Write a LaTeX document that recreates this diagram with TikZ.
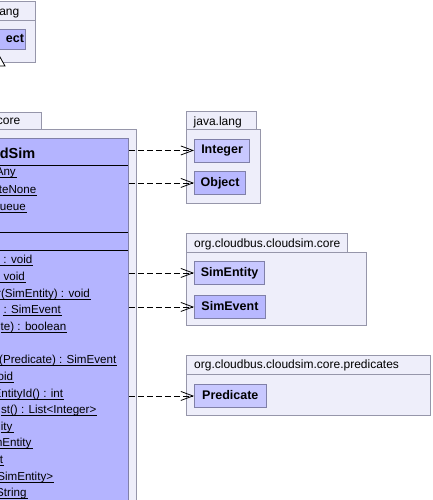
\documentclass[tikz,border=0pt]{standalone}
\usepackage{fontspec}
\setmainfont{Liberation Sans}
\usetikzlibrary{arrows.meta}
\definecolor{pkgfill}{RGB}{238,238,250}
\definecolor{pkgdraw}{RGB}{150,150,170}
\definecolor{clsfill}{RGB}{180,180,255}
\definecolor{nodefilla}{RGB}{200,200,255}
\definecolor{nodefillb}{RGB}{184,184,255}
\definecolor{nodedraw}{RGB}{128,128,168}
\newcommand\memtext[5]{%
  \node[mem] (#1) at (#2,#3) {#4#5};
  \draw[uline] ([yshift=-1.9pt]#1.base west) -- ([yshift=-1.9pt,xshift=0.8pt]#1.base east);}
\begin{document}
\begin{tikzpicture}[x=1pt,y=-1pt,
  pkg/.style={draw=pkgdraw, fill=pkgfill, line width=0.9pt},
  cnode/.style={draw=nodedraw, fill=nodefilla, line width=0.9pt,
    font=\fontsize{12.5}{14}\selectfont\bfseries, minimum height=23pt,
    text height=9pt, text depth=2.5pt, inner sep=0pt, anchor=north west},
  tabtext/.style={font=\fontsize{12}{14}\selectfont, inner sep=0pt, anchor=base west},
  mem/.style={font=\fontsize{11.6}{14}\selectfont, inner sep=0pt, anchor=base east},
  uline/.style={line width=0.8pt, draw=black},
  sep/.style={line width=0.9pt, draw=black},
  dep/.style={draw=black, dash pattern=on 6pt off 3pt, line width=0.8pt,
    -{Straight Barb[length=12pt,width=9pt,line width=0.8pt]}},
]
\useasboundingbox (0,0) rectangle (433,500);
\clip (0,0) rectangle (433,500);

% top-left package (java.lang, cut off)
\draw[pkg] (-20,1.7) rectangle (35,20);
\draw[pkg] (-20,20) rectangle (35,62);
\node[tabtext, anchor=base east] (tlname) at (19.5,15.5) {lang};
\node[cnode, fill=nodefillb, anchor=north east, minimum width=60pt, minimum height=20pt,
  text width=57.5pt, align=right] (tlobj) at (25.7,29) {ect};
\draw[line width=0.8pt, fill=white] (tlobj.south -| -4,0) -- (5,66) -- (-13,66) -- cycle;

% left package (org.cloudbus.cloudsim.core, cut off)
\draw[pkg] (-20,112) rectangle (41,129);
\draw[pkg] (-20,129) rectangle (136,530);
\node[tabtext, anchor=base east] (lcore) at (20.5,124.5) {core};

% main class
\node[draw=nodedraw, fill=clsfill, line width=0.9pt, anchor=north west,
  minimum width=148pt, minimum height=400pt, inner sep=0pt] (cls) at (-20,138.3) {};
\node[font=\fontsize{14.5}{16}\selectfont\bfseries, inner sep=0pt, anchor=base east] (title) at (35.5,158.5) {dSim};
\draw[sep] (-20,165) -- (128,165);
\draw[sep] (-20,232.7) -- (128,232.7);
\draw[sep] (-20,250.7) -- (128,250.7);

\memtext{a1}{16}{175.8}{Any}{}
\memtext{a2}{36.5}{193}{teNone}{}
\memtext{a3}{26}{210.2}{ueue}{}

\memtext{m0}{32.5}{263.7}{n : void}{}
\memtext{m1}{25}{280.3}{: void}{}
\memtext{m2}{90}{297}{r(SimEntity) : void}{}
\memtext{m3}{61}{313.6}{: SimEvent}{}
\memtext{m4}{66.5}{330.3}{te) : boolean}{}
\memtext{m6}{116.5}{363.6}{(Predicate) : SimEvent}{}
\memtext{m7}{13.3}{380.3}{oid}{}
\memtext{m8}{63.3}{397}{EntityId() : int}{}
\memtext{m9}{96.5}{413.6}{st() : List<Integer>}{}
\memtext{m10}{12.7}{430.2}{ity}{}
\memtext{m11}{31.7}{446.9}{mEntity}{}
\memtext{m12}{3.3}{463.6}{t}{}
\memtext{m13}{53.3}{480.2}{SimEntity>}{}
\memtext{m14}{26.7}{496.8}{String}{}

% java.lang package
\draw[pkg] (186,111) rectangle (256,129);
\draw[pkg] (186,129) rectangle (260,203);
\node[tabtext] (jl) at (193.5,125) {java.lang};
\node[cnode, minimum width=55.3pt] (int) at (194,138.5) {Integer};
\node[cnode, fill=nodefillb, minimum width=51.3pt] (obj) at (194,171) {Object};

% org.cloudbus.cloudsim.core package
\draw[pkg] (186,233.3) rectangle (347.7,252.7);
\draw[pkg] (186,252.7) rectangle (366.7,325.7);
\node[tabtext] (cc) at (194,247.8) {org.cloudbus.cloudsim.core};
\node[cnode, minimum width=70.3pt] (ent) at (194,261) {SimEntity};
\node[cnode, fill=nodefillb, minimum width=71pt] (evt) at (194,295) {SimEvent};

% predicates package
\draw[pkg] (186,355.7) rectangle (430,374);
\draw[pkg] (186,374) rectangle (430,415);
\node[tabtext] (pp) at (194,368.5) {org.cloudbus.cloudsim.core.predicates};
\node[cnode, minimum width=71.7pt] (pred) at (194,384) {Predicate};

% dependencies
\draw[dep] (cls.east |- int.west) -- (int.west);
\draw[dep] (cls.east |- obj.west) -- (obj.west);
\draw[dep] (cls.east |- ent.west) -- (ent.west);
\draw[dep] (cls.east |- evt.west) -- (evt.west);
\draw[dep] (cls.east |- pred.west) -- (pred.west);
\end{tikzpicture}
\end{document}
